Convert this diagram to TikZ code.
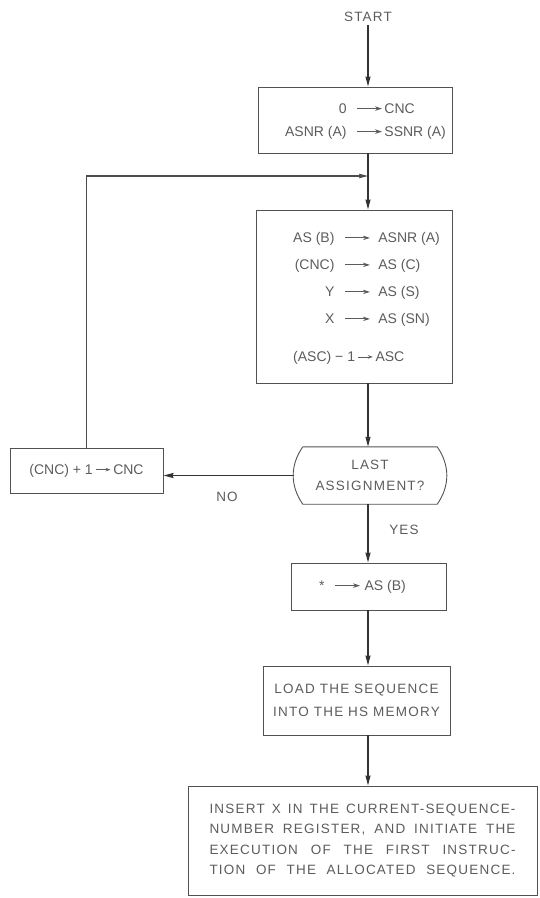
\documentclass[tikz,border=0pt]{standalone}
\usepackage{fontspec}
\setmainfont{Liberation Sans}
\newfontfamily\capsfont{Liberation Sans}[LetterSpace=9]
\usetikzlibrary{arrows.meta}
\definecolor{inkgray}{gray}{0.36}
\definecolor{linegray}{gray}{0.32}
\newcommand{\gives}{\tikz[baseline={(0pt,-4.5pt)}]\draw[inkgray,line width=0.9pt,-{Stealth[length=7pt,width=4.5pt]}] (0pt,0pt) -- (25pt,0pt);}
\newcommand{\onto}{\tikz[baseline={(0pt,-4.5pt)}]\draw[inkgray,line width=0.8pt,-{Stealth[length=5pt,width=3.5pt]}] (0pt,0pt) -- (15pt,0pt);}
\newcommand{\jline}[1]{\makebox[306pt][s]{#1}}
\tikzset{
	box/.style={draw=linegray,line width=0.9pt,text=inkgray,inner sep=0pt,font=\fontsize{14}{23}\selectfont},
	capsbox/.style={box,align=center,font=\capsfont\fontsize{13.5}{23}\selectfont},
	lbl/.style={text=inkgray,align=center,font=\capsfont\fontsize{13.5}{21}\selectfont},
	flow/.style={line width=1.5pt,black!80,-{Stealth[length=10pt,width=5pt,inset=1pt]}},
	back/.style={line width=1.1pt,black!70,-{Stealth[length=9pt,width=4.5pt,inset=1pt]}}
}

\begin{document}
\begin{tikzpicture}[x=1pt,y=-1pt]
	\useasboundingbox (0,0) rectangle (539,898);

	\node[lbl] (start) at (368,17) {START};

	\node[box,minimum width=194pt,minimum height=66pt] (init) at (355,120)
		{\hspace*{21pt}\begin{tabular}{@{}r@{\hspace{10pt}}c@{\hspace{2pt}}l@{}}
			0 & \gives & CNC\\
			ASNR (A) & \gives & SSNR (A)
		\end{tabular}};

	\node[box,minimum width=196pt,minimum height=173pt,font=\fontsize{14}{27}\selectfont] (assign) at (354,296.5)
		{\hspace*{25pt}\begin{tabular}{@{}r@{\hspace{10pt}}c@{\hspace{8pt}}l@{}}
			AS (B) & \gives & ASNR (A)\\
			(CNC) & \gives & AS (C)\\
			Y & \gives & AS (S)\\
			X & \gives & AS (SN)\\[11pt]
			\multicolumn{3}{@{}l@{}}{(ASC) − 1\,\onto\,ASC}
		\end{tabular}};

	\node[lbl,minimum width=134pt,minimum height=57pt,inner sep=0pt] (last) at (370,475.5) {LAST\\ASSIGNMENT?};
	\draw[linegray,line width=0.9pt] (last.north west) -- (last.north east) to[bend left=35] (last.south east)
		-- (last.south west) to[bend left=35] (last.north west);

	\node[box,minimum width=153pt,minimum height=45pt] (incr) at (86.5,470.5) {(CNC) + 1\,\onto\,CNC};
	\node[lbl] (no) at (227,497) {NO};
	\node[lbl] (yes) at (404,530) {YES};

	\node[box,minimum width=155pt,minimum height=47pt] (clear) at (368.5,586.5)
		{\hspace*{-12pt}*\hspace{10pt}\gives\hspace{4pt}AS (B)};

	\node[capsbox,minimum width=187pt,minimum height=69pt] (load) at (356.5,700.5)
		{LOAD THE SEQUENCE\\INTO THE HS MEMORY};

	\node[capsbox,minimum width=349pt,minimum height=109pt,font=\capsfont\fontsize{13.5}{20.5}\selectfont] (exec) at (362.5,840.5)
		{\jline{INSERT X IN THE CURRENT-SEQUENCE-}\\
		\jline{NUMBER REGISTER, AND INITIATE THE}\\
		\jline{EXECUTION OF THE FIRST INSTRUC-}\\
		\jline{TION OF THE ALLOCATED SEQUENCE.}};

	\coordinate (merge) at (368,176);

	\draw[flow] (start) -- (start |- init.north);
	\draw[flow] (init.south -| start) -- (assign.north -| start);
	\draw[flow] (assign.south -| start) -- (last.north -| start);
	\draw[flow] ([xshift=-9pt]last.west) -- (incr.east |- last.west);
	\draw[back] (incr.north) |- (merge);
	\draw[flow] (last.south -| start) -- (clear.north -| start);
	\draw[flow] (clear.south -| start) -- (load.north -| start);
	\draw[flow] (load.south -| start) -- (exec.north -| start);
\end{tikzpicture}
\end{document}
